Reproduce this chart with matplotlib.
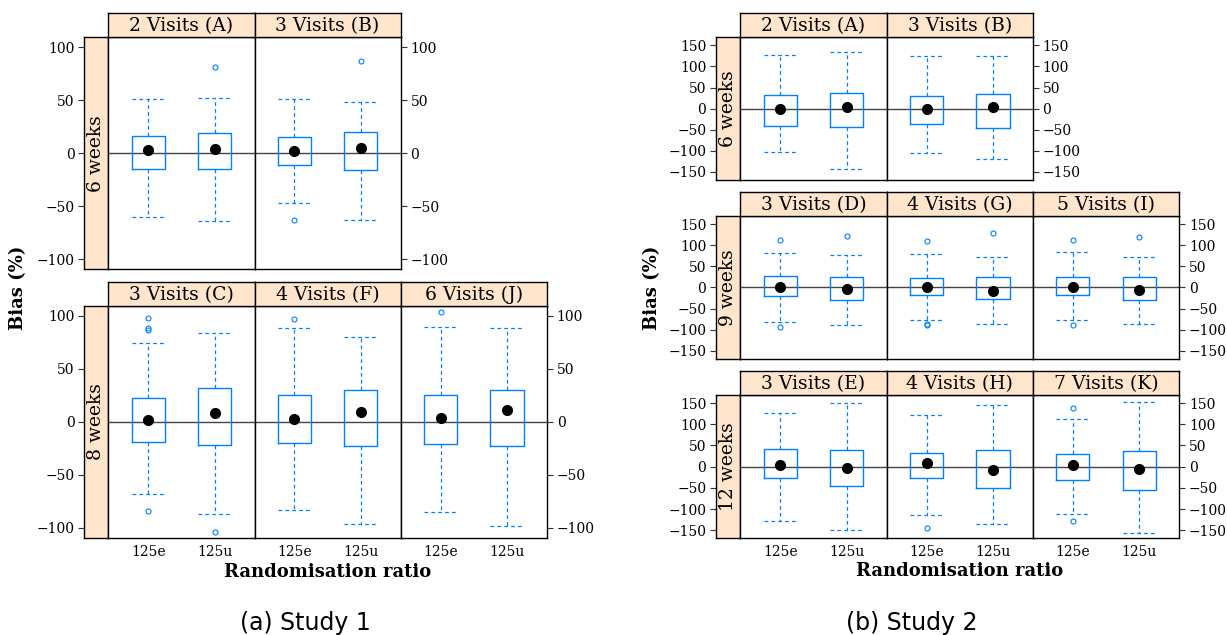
import matplotlib
matplotlib.use('Agg')
import matplotlib.pyplot as plt

W, H = 1227, 635

ratios = ['125e', '125u']

# Study 1 : panels A, B (6 weeks) then C, F, J (8 weeks); each pair = [125e, 125u]
s1_rows = ['6 weeks', '8 weeks']
s1_titles = [['2 Visits (A)', '3 Visits (B)'],
             ['3 Visits (C)', '4 Visits (F)', '6 Visits (J)']]
s1_med = [[3.1, 4.1], [1.9, 4.7], [1.3, 7.9], [2.8, 9.5], [3.2, 11.1]]
s1_q1 = [[-15.4, -14.5], [-11.6, -16.0], [-19.3, -22.2], [-20.3, -22.8], [-20.9, -23.1]]
s1_q3 = [[16.4, 18.9], [15.7, 19.5], [22.8, 31.6], [25.3, 29.7], [25.6, 29.7]]
s1_lo = [[-60.4, -63.8], [-47.2, -62.6], [-67.7, -86.7], [-82.9, -96.2], [-85.1, -98.1]]
s1_hi = [[50.9, 51.6], [51.3, 48.1], [74.1, 84.2], [88.9, 80.1], [89.2, 88.3]]
s1_out = [[[], [81.1]], [[-63.2], [86.8]], [[98.4, 88.3, 87.0, -84.2], [-103.8]],
          [[96.8], []], [[103.2], []]]

# Study 2 : A, B (6 weeks), D, G, I (9 weeks), E, H, K (12 weeks)
s2_rows = ['6 weeks', '9 weeks', '12 weeks']
s2_titles = [['2 Visits (A)', '3 Visits (B)'],
             ['3 Visits (D)', '4 Visits (G)', '5 Visits (I)'],
             ['3 Visits (E)', '4 Visits (H)', '7 Visits (K)']]
s2_med = [[0.0, 4.8], [0.0, 3.2], [1.6, -4.7], [0.8, -7.1], [1.6, -5.5],
          [4.0, -2.4], [8.7, -8.7], [4.0, -6.3]]
s2_q1 = [[-40.7, -43.9], [-35.9, -44.7], [-19.7, -28.4], [-18.2, -27.6], [-18.9, -29.2],
         [-27.8, -46.8], [-27.8, -49.2], [-31.0, -54.0]]
s2_q3 = [[32.7, 36.7], [30.3, 34.3], [26.1, 24.5], [22.9, 23.7], [25.3, 23.7],
         [42.1, 38.9], [33.3, 38.9], [31.0, 36.5]]
s2_lo = [[-102.9, -142.8], [-105.3, -118.1], [-81.3, -89.2], [-76.6, -85.3], [-76.6, -86.8],
         [-128.6, -149.2], [-115.1, -134.1], [-111.1, -156.3]]
s2_hi = [[127.7, 134.0], [123.7, 123.7], [81.3, 76.6], [78.2, 72.6], [84.5, 71.1],
         [125.4, 149.2], [121.4, 146.0], [111.9, 152.4]]
s2_out = [[[], []], [[], []], [[111.3, -92.4], [121.6]], [[110.5, -86.0, -89.5], [127.9]],
          [[111.3, -89.0], [118.4]], [[], []], [[-144.4], []], [[137.3, -127.8], []]]

BLUE = '#0080ff'
STRIP = '#ffe5cc'

plt.rcParams['font.family'] = 'DejaVu Serif'
plt.rcParams['axes.linewidth'] = 1.0

fig = plt.figure(figsize=(W / 100, H / 100), dpi=100)


def rect(x0, y0, x1, y1):
    return [x0 / W, 1 - y1 / H, (x1 - x0) / W, (y1 - y0) / H]


def draw_box(ax, med, q1, q3, lo, hi, out):
    stats = []
    for i in range(2):
        stats.append({'med': med[i], 'q1': q1[i], 'q3': q3[i],
                      'whislo': lo[i], 'whishi': hi[i], 'fliers': out[i]})
    ax.axhline(0, color='#444444', lw=1.0, zorder=1)
    ax.bxp(stats, positions=[1, 2], widths=0.5, capwidths=0.5,
           boxprops=dict(color=BLUE, lw=1.0),
           whiskerprops=dict(color=BLUE, lw=0.9, linestyle=(0, (3, 2.5))),
           capprops=dict(color=BLUE, lw=0.9, linestyle=(0, (3, 2.5))),
           medianprops=dict(lw=0),
           flierprops=dict(marker='o', markerfacecolor='none', markeredgecolor=BLUE,
                           markersize=3.6, markeredgewidth=0.8),
           manage_ticks=False)
    ax.plot([1, 2], med, 'o', color='black', ms=7, zorder=5)


def study(cols, rows, left_x, titles, rowlabels, med, q1, q3, lo, hi, out, lim, ticks):
    k = 0
    for r, (ys, yp, yb, n) in enumerate(rows):
        # left strip carries the left axis
        sax = fig.add_axes(rect(left_x, yp, cols[0], yb))
        sax.set_facecolor(STRIP)
        sax.set_xticks([])
        sax.set_ylim(-lim, lim)
        sax.set_yticks(ticks)
        sax.tick_params(axis='y', length=4, width=0.8, color='#333333', pad=3,
                        labelsize=10)
        sax.text(0.5, 0.5, rowlabels[r], rotation=90, ha='center', va='center',
                 fontsize=13.5, transform=sax.transAxes)
        for c in range(n):
            ax = fig.add_axes(rect(cols[c], yp, cols[c + 1], yb))
            draw_box(ax, med[k], q1[k], q3[k], lo[k], hi[k], out[k])
            k += 1
            ax.set_xlim(0.4, 2.6)
            ax.set_ylim(-lim, lim)
            if c == n - 1:
                ax.yaxis.tick_right()
                ax.set_yticks(ticks)
                ax.tick_params(axis='y', length=4, width=0.8, color='#333333', pad=3,
                               labelsize=10)
            else:
                ax.set_yticks([])
            if r == len(rows) - 1:
                ax.set_xticks([1, 2], ratios)
                ax.tick_params(axis='x', length=0, pad=5, labelsize=10)
            else:
                ax.set_xticks([])
            tax = fig.add_axes(rect(cols[c], ys, cols[c + 1], yp))
            tax.set_facecolor(STRIP)
            tax.set_xticks([])
            tax.set_yticks([])
            tax.text(0.5, 0.45, titles[r][c], ha='center', va='center', fontsize=13.5,
                     transform=tax.transAxes)


study([108.3, 254.5, 400.7, 547.0],
      [(13.3, 37.3, 269.0, 2), (281.7, 306.0, 537.7, 3)],
      84.3, s1_titles, s1_rows, s1_med, s1_q1, s1_q3, s1_lo, s1_hi, s1_out,
      109.3, [-100, -50, 0, 50, 100])

study([740.3, 886.6, 1032.9, 1179.2],
      [(13.3, 37.3, 180.0, 2), (192.3, 216.0, 359.0, 3), (371.0, 395.0, 538.3, 3)],
      716.0, s2_titles, s2_rows, s2_med, s2_q1, s2_q3, s2_lo, s2_hi, s2_out,
      169.0, [-150, -100, -50, 0, 50, 100, 150])

fig.text(327.6 / W, 1 - 571.7 / H, 'Randomisation ratio', ha='center', va='center',
         fontsize=13, fontweight='bold')
fig.text(959.8 / W, 1 - 571.0 / H, 'Randomisation ratio', ha='center', va='center',
         fontsize=13, fontweight='bold')
fig.text(18 / W, 1 - 287.5 / H, 'Bias (%)', rotation=90, ha='center', va='center',
         fontsize=13, fontweight='bold')
fig.text(652 / W, 1 - 287.5 / H, 'Bias (%)', rotation=90, ha='center', va='center',
         fontsize=13, fontweight='bold')

fig.text(305 / W, 1 - 623 / H, '(a) Study 1', ha='center', va='center',
         fontsize=17, family='DejaVu Sans')
fig.text(912 / W, 1 - 623 / H, '(b) Study 2', ha='center', va='center',
         fontsize=17, family='DejaVu Sans')

fig.savefig('out.png', dpi=100)
